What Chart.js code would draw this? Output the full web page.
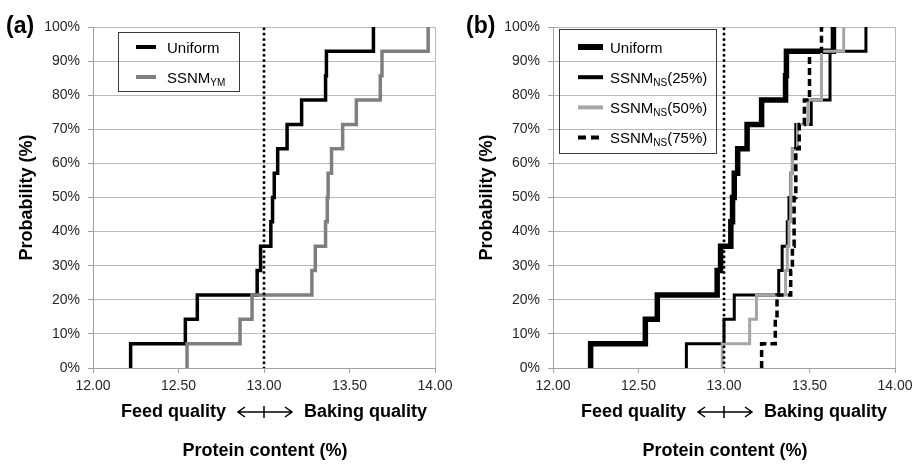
<!DOCTYPE html>
<html>
<head>
<meta charset="utf-8">
<script src="https://cdn.jsdelivr.net/npm/chart.js@4.4.1/dist/chart.umd.min.js"></script>
<style>
  html, body { margin: 0; padding: 0; background: #fff; }
  #wrap { position: relative; width: 921px; height: 464px; }
  .panel { position: absolute; top: 0; height: 464px; }
  #panelA { left: 0; width: 460px; }
  #panelB { left: 460px; width: 461px; }
</style>
</head>
<body>
<div id="wrap">
  <div class="panel" id="panelA"><canvas id="chartA"></canvas></div>
  <div class="panel" id="panelB"><canvas id="chartB"></canvas></div>
</div>
<script>
// cumulative probability (%) after each of the 14 runs
const probLevels = [0, 7.1, 14.3, 21.4, 28.6, 35.7, 42.9, 50.0, 57.1, 64.3, 71.4, 78.6, 85.7, 92.9, 100];

// protein content (%) where each step happens
const uniform  = [12.22, 12.54, 12.61, 12.96, 12.98, 13.04, 13.05, 13.06, 13.08, 13.135, 13.22, 13.36, 13.365, 13.64];
const ssnmYM   = [12.55, 12.86, 12.93, 13.28, 13.30, 13.36, 13.37, 13.375, 13.395, 13.46, 13.54, 13.68, 13.69, 13.96];
const ssnmNS25 = [12.78, 13.00, 13.06, 13.32, 13.34, 13.37, 13.38, 13.39, 13.40, 13.42, 13.51, 13.62, 13.62, 13.83];
const ssnmNS50 = [12.99, 13.15, 13.19, 13.36, 13.37, 13.38, 13.39, 13.39, 13.40, 13.43, 13.49, 13.57, 13.57, 13.70];
const ssnmNS75 = [13.22, 13.30, 13.31, 13.39, 13.40, 13.41, 13.41, 13.42, 13.42, 13.44, 13.47, 13.50, 13.50, 13.57];

// feed / baking quality threshold
const thresholdX = [13.00, 13.00];
const thresholdY = [0, 100];

// axis ticks
const xTicks = [12, 12.5, 13, 13.5, 14];
const xTickLabels = ['12.00', '12.50', '13.00', '13.50', '14.00'];
const yTicks = [0, 10, 20, 30, 40, 50, 60, 70, 80, 90, 100];
const yTickLabels = ['0%', '10%', '20%', '30%', '40%', '50%', '60%', '70%', '80%', '90%', '100%'];

const FONT = '"Liberation Sans", Arial, sans-serif';
const GRID = '#b9b9b9';
const AXIS = '#a3a3a3';

function cdf(xs) {
  let pts = [{ x: xs[0], y: probLevels[0] }];
  xs.forEach((x, i) => pts.push({ x: x, y: probLevels[i + 1] }));
  return pts;
}

function stepSet(xs, color, width, dash, order) {
  return {
    data: cdf(xs),
    borderColor: color,
    borderWidth: width,
    borderDash: dash || [],
    stepped: 'before',
    pointRadius: 0,
    fill: false,
    order: order
  };
}

function thresholdSet() {
  return {
    data: thresholdX.map((x, i) => ({ x: x, y: thresholdY[i] })),
    borderColor: '#000',
    borderWidth: 3,
    borderDash: [0, 5.3],
    borderCapStyle: 'round',
    pointRadius: 0,
    order: 0
  };
}

// 小工具：畫帶下標的文字
function drawRich(ctx, x, y, text, sub, tail) {
  ctx.font = '15px ' + FONT;
  ctx.fillText(text, x, y);
  x += ctx.measureText(text).width;
  if (sub) {
    ctx.font = '10px ' + FONT;
    ctx.fillText(sub, x, y + 3);
    x += ctx.measureText(sub).width;
    ctx.font = '15px ' + FONT;
  }
  if (tail) ctx.fillText(tail, x, y);
}

function decor(letter, legend) {
  return {
    id: 'decor' + letter,
    afterDraw(chart) {
      const ctx = chart.ctx;
      const xs = chart.scales.x;
      const mid = xs.getPixelForValue(13);
      ctx.save();
      ctx.fillStyle = '#000';
      ctx.textBaseline = 'middle';

      // panel letter
      ctx.font = 'bold 23px ' + FONT;
      ctx.textAlign = 'left';
      ctx.fillText('(' + letter + ')', 6, 27);

      // legend box
      ctx.strokeStyle = '#3a3a3a';
      ctx.lineWidth = 1;
      ctx.strokeRect(legend.box[0] + 0.5, legend.box[1] + 0.5, legend.box[2], legend.box[3]);
      ctx.textBaseline = 'alphabetic';
      legend.items.forEach((it, i) => {
        const y = legend.y0 + i * legend.dy;
        ctx.beginPath();
        ctx.strokeStyle = it.color;
        ctx.lineWidth = it.width;
        ctx.setLineDash(it.dash || []);
        ctx.moveTo(legend.x0, y);
        ctx.lineTo(legend.x0 + legend.len, y);
        ctx.stroke();
        ctx.setLineDash([]);
        ctx.fillStyle = '#000';
        drawRich(ctx, legend.tx, y + 5.5, it.text, it.sub, it.tail);
      });

      // feed / baking quality arrow row
      const yRow = 412;
      ctx.font = 'bold 18px ' + FONT;
      ctx.textBaseline = 'middle';
      ctx.textAlign = 'right';
      ctx.fillText('Feed quality', mid - 38, yRow);
      ctx.textAlign = 'left';
      ctx.fillText('Baking quality', mid + 40, yRow);
      ctx.strokeStyle = '#000';
      ctx.lineWidth = 1.5;
      ctx.beginPath();
      ctx.moveTo(mid - 26, yRow); ctx.lineTo(mid + 28, yRow);
      ctx.moveTo(mid - 19, yRow - 5); ctx.lineTo(mid - 26, yRow); ctx.lineTo(mid - 19, yRow + 5);
      ctx.moveTo(mid + 21, yRow - 5); ctx.lineTo(mid + 28, yRow); ctx.lineTo(mid + 21, yRow + 5);
      ctx.moveTo(mid, yRow - 6); ctx.lineTo(mid, yRow + 6);
      ctx.stroke();

      // axis title
      ctx.textAlign = 'center';
      ctx.fillText('Protein content (%)', (chart.chartArea.left + chart.chartArea.right) / 2 + 1, 451);
      ctx.restore();
    }
  };
}

function options(rightPad) {
  return {
    responsive: true,
    maintainAspectRatio: false,
    animation: false,
    devicePixelRatio: 1,
    layout: { padding: { left: 8, top: 27, right: rightPad, bottom: 0 } },
    plugins: { legend: { display: false }, tooltip: { enabled: false } },
    scales: {
      x: {
        type: 'linear',
        min: 12, max: 14,
        afterBuildTicks: s => { s.ticks = xTicks.map(v => ({ value: v })); },
        afterFit: s => { s.height = 96; },
        ticks: {
          callback: (v, i) => xTickLabels[i],
          color: '#262626',
          font: { family: FONT, size: 14 },
          padding: 5,
          maxRotation: 0
        },
        grid: {
          color: c => (c.tick && c.tick.value === 14) ? GRID : 'rgba(0,0,0,0)',
          tickColor: AXIS,
          tickLength: 5
        },
        border: { display: true, color: AXIS }
      },
      y: {
        min: 0, max: 100,
        afterBuildTicks: s => { s.ticks = yTicks.map(v => ({ value: v })); },
        afterFit: s => { s.width = 85; },
        ticks: {
          callback: (v, i) => yTickLabels[i],
          color: '#262626',
          font: { family: FONT, size: 14 },
          padding: 8
        },
        grid: { color: GRID, tickColor: AXIS, tickLength: 5 },
        border: { display: true, color: AXIS },
        title: {
          display: true,
          text: 'Probability (%)',
          color: '#000',
          font: { family: FONT, size: 18, weight: 'bold' },
          padding: { top: 8, bottom: 0 }
        }
      }
    }
  };
}

// 圖 (a)
new Chart(document.getElementById('chartA'), {
  type: 'line',
  data: {
    datasets: [
      thresholdSet(),
      stepSet(ssnmYM, '#7f7f7f', 3.5, null, 1),
      stepSet(uniform, '#000', 3.5, null, 2)
    ]
  },
  options: options(25),
  plugins: [decor('a', {
    box: [118, 32, 121, 59],
    x0: 136, len: 20, tx: 167, y0: 47, dy: 30,
    items: [
      { text: 'Uniform', color: '#000', width: 4 },
      { text: 'SSNM', sub: 'YM', color: '#7f7f7f', width: 4 }
    ]
  })]
});

// 圖 (b)
new Chart(document.getElementById('chartB'), {
  type: 'line',
  data: {
    datasets: [
      thresholdSet(),
      stepSet(ssnmNS75, '#000', 3.5, [7, 4], 1),
      stepSet(ssnmNS50, '#a6a6a6', 3, null, 2),
      stepSet(ssnmNS25, '#000', 3, null, 3),
      stepSet(uniform, '#000', 5.5, null, 4)
    ]
  },
  options: options(26),
  plugins: [decor('b', {
    box: [99, 29, 157, 124],
    x0: 118, len: 25, tx: 150, y0: 47, dy: 30.2,
    items: [
      { text: 'Uniform', color: '#000', width: 6 },
      { text: 'SSNM', sub: 'NS', tail: '(25%)', color: '#000', width: 4 },
      { text: 'SSNM', sub: 'NS', tail: '(50%)', color: '#a6a6a6', width: 4 },
      { text: 'SSNM', sub: 'NS', tail: '(75%)', color: '#000', width: 4, dash: [8, 5] }
    ]
  })]
});
</script>
</body>
</html>
